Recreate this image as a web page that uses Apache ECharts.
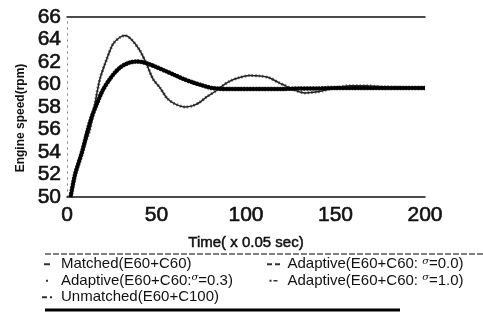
<!DOCTYPE html>
<html>
<head>
<meta charset="utf-8">
<script src="https://cdn.jsdelivr.net/npm/echarts@6/dist/echarts.min.js"></script>
<style>
html,body{margin:0;padding:0;background:#fff;}
#c{width:483px;height:332px;}
</style>
</head>
<body>
<div id="c"></div>
<script>
// ---- data ----
var xTicks = [0, 50, 100, 150, 200];
var yTicks = [50, 52, 54, 56, 58, 60, 62, 64, 66];

var seriesNames = [
  'Matched(E60+C60)',
  'Adaptive(E60+C60: σ=0.0)',
  'Adaptive(E60+C60:σ=0.3)',
  'Adaptive(E60+C60: σ=1.0)',
  'Unmatched(E60+C100)'
];

// thick (well damped) response: matched / adaptive sigma 0.3 / 1.0
var matchedT = [2, 4.5, 8.4, 11.7, 14, 16.7, 20, 24, 27, 29.6, 32, 35, 39, 42, 46, 50, 55, 60, 65, 70, 75, 80, 85, 90, 97, 110, 119, 130, 140, 150, 160, 170, 180, 190, 200];
var matchedV = [50, 52, 54, 56, 57.2, 58.3, 59.5, 60.5, 61.1, 61.5, 61.75, 61.95, 62.05, 62.0, 61.8, 61.55, 61.2, 60.85, 60.5, 60.2, 59.95, 59.72, 59.62, 59.6, 59.6, 59.6, 59.6, 59.65, 59.65, 59.7, 59.7, 59.7, 59.7, 59.7, 59.7];

var adapt03V = [50, 52, 54, 56, 57.2, 58.3, 59.5, 60.5, 61.1, 61.5, 61.75, 61.95, 62.05, 62.0, 61.8, 61.55, 61.2, 60.85, 60.5, 60.2, 59.95, 59.72, 59.62, 59.6, 59.6, 59.6, 59.6, 59.65, 59.65, 59.7, 59.7, 59.7, 59.7, 59.7, 59.7];
var adapt10V = [50, 52, 54, 56, 57.2, 58.3, 59.5, 60.5, 61.1, 61.5, 61.75, 61.95, 62.05, 62.0, 61.8, 61.55, 61.2, 60.85, 60.5, 60.2, 59.95, 59.72, 59.62, 59.6, 59.6, 59.6, 59.6, 59.65, 59.65, 59.7, 59.7, 59.7, 59.7, 59.7, 59.7];

// oscillating response: unmatched / adaptive sigma 0.0
var unmatchedT = [2, 4.5, 8.4, 12.8, 15.6, 18.4, 22.3, 25.7, 29.6, 32.4, 36, 40.8, 44.5, 48, 52, 55.8, 60, 66, 70, 74, 78, 83, 87, 91, 96, 102, 108, 113, 119, 122, 127, 133, 140, 147, 158, 167, 175, 185, 200];
var unmatchedV = [50, 52, 54, 56, 58.3, 60.5, 62.3, 63.6, 64.2, 64.35, 64.0, 63.0, 61.8, 60.5, 59.7, 58.8, 58.3, 58.0, 58.1, 58.4, 58.9, 59.4, 59.9, 60.3, 60.6, 60.8, 60.75, 60.6, 60.1, 59.9, 59.5, 59.25, 59.35, 59.6, 59.9, 59.9, 59.8, 59.75, 59.7];
var adapt00V = [50, 52, 54, 56, 58.3, 60.5, 62.3, 63.6, 64.2, 64.35, 64.0, 63.0, 61.8, 60.5, 59.7, 58.8, 58.3, 58.0, 58.1, 58.4, 58.9, 59.4, 59.9, 60.3, 60.6, 60.8, 60.75, 60.6, 60.1, 59.9, 59.5, 59.25, 59.35, 59.6, 59.9, 59.9, 59.8, 59.75, 59.7];

function pairs(t, v) { return t.map(function (x, i) { return [x, v[i]]; }); }

var FONT = 'Liberation Sans, Arial, sans-serif';
var chart = echarts.init(document.getElementById('c'), null, {renderer: 'canvas'});

var legendText = {
  fontFamily: FONT, fontSize: 15, color: '#111', lineHeight: 16.5, align: 'left',
  rich: {
    a: { fontFamily: FONT, fontSize: 15, color: '#111', lineHeight: 16.5 },
    s: { fontFamily: 'DejaVu Serif, serif', fontStyle: 'italic', fontSize: 10, color: '#111', verticalAlign: 'top', lineHeight: 16.5 }
  }
};
function fmt(n) {
  var i = n.indexOf('σ');
  if (i < 0) return '{a|' + n + '}';
  return '{a|' + n.slice(0, i) + '}{s|σ}{a|' + n.slice(i + 1) + '}';
}

var option = {
  animation: false,
  backgroundColor: '#fff',
  grid: { left: 67, right: 58, top: 17, bottom: 135, containLabel: false },
  xAxis: [{
    type: 'value', min: xTicks[0], max: xTicks[xTicks.length - 1], interval: 50,
    axisLine: { show: true, lineStyle: { color: '#111', width: 1.5 } },
    axisTick: { show: false },
    splitLine: { show: false },
    axisLabel: { fontFamily: FONT, fontSize: 21, color: '#111', margin: 8, textBorderColor: '#111', textBorderWidth: 0.6 },
    name: 'Time( x 0.05 sec)', nameLocation: 'middle', nameGap: 38,
    nameTextStyle: { fontFamily: FONT, fontSize: 15, color: '#111', textBorderColor: '#111', textBorderWidth: 0.5 }
  }, {
    type: 'value', position: 'top', min: 0, max: 200,
    axisLine: { show: true, lineStyle: { color: '#111', width: 1.5 } },
    axisTick: { show: false }, axisLabel: { show: false }, splitLine: { show: false }
  }],
  yAxis: [{
    type: 'value', min: yTicks[0], max: yTicks[yTicks.length - 1], interval: 2,
    axisLine: { show: true, lineStyle: { color: '#888', width: 1, type: [1, 5] } },
    axisTick: { show: false },
    splitLine: { show: false },
    axisLabel: { fontFamily: FONT, fontSize: 21, color: '#111', margin: 6, textBorderColor: '#111', textBorderWidth: 0.6 }
  }, {
    type: 'value', position: 'right', min: 50, max: 66,
    axisLine: { show: true, lineStyle: { color: '#888', width: 1, type: [1, 5] } },
    axisTick: { show: false }, axisLabel: { show: false }, splitLine: { show: false }
  }],
  legend: [{
    orient: 'vertical', left: 42, top: 256, itemGap: 0, padding: 0, align: 'left',
    itemWidth: 18, itemHeight: 2,
    data: [
      { name: seriesNames[0], icon: 'path://M0,0h6v2h-6z' },
      { name: seriesNames[2], icon: 'path://M0,0h2v2h-2z' },
      { name: seriesNames[4], icon: 'path://M0,0h5v2h-5zM8,0h2v2h-2z' }
    ],
    formatter: fmt, textStyle: legendText,
    itemStyle: { color: '#333', borderWidth: 0 }, lineStyle: { width: 0 }
  }, {
    orient: 'vertical', left: 267, top: 256, itemGap: 0, padding: 0, align: 'left',
    itemWidth: 18, itemHeight: 2,
    data: [
      { name: seriesNames[1], icon: 'path://M0,0h5v2h-5zM8,0h5v2h-5z' },
      { name: seriesNames[3], icon: 'path://M0,-0.5h3v3h-3zM6,0h6v2h-6z' }
    ],
    formatter: fmt, textStyle: legendText,
    itemStyle: { color: '#333', borderWidth: 0 }, lineStyle: { width: 0 }
  }],
  graphic: [
    { type: 'text', x: 21, y: 118, rotation: Math.PI / 2,
      style: { text: 'Engine speed(rpm)', font: 'bold 12px ' + FONT, fill: '#111', align: 'center', verticalAlign: 'middle' } },
    { type: 'line', shape: { x1: 45, y1: 254, x2: 483, y2: 254 },
      style: { stroke: '#555', lineWidth: 1.5, lineDash: [6, 2] } },
    { type: 'line', shape: { x1: 45, y1: 310, x2: 400, y2: 310 },
      style: { stroke: '#000', lineWidth: 3 } }
  ],
  series: [
    { name: seriesNames[4], type: 'line', showSymbol: false, smooth: 0.25, z: 2,
      data: pairs(unmatchedT, unmatchedV),
      itemStyle: { color: '#666' },
      lineStyle: { color: '#777', width: 3, type: [1.5, 2] } },
    { name: seriesNames[1], type: 'line', showSymbol: false, smooth: 0.25, z: 3,
      data: pairs(unmatchedT, adapt00V),
      itemStyle: { color: '#222' },
      lineStyle: { color: '#222', width: 1.5 } },
    { name: seriesNames[2], type: 'line', showSymbol: false, smooth: 0.25, z: 4,
      data: pairs(matchedT, adapt03V),
      itemStyle: { color: '#555' },
      lineStyle: { color: '#333', width: 4.5, type: [2, 1] } },
    { name: seriesNames[3], type: 'line', showSymbol: false, smooth: 0.25, z: 5,
      data: pairs(matchedT, adapt10V),
      itemStyle: { color: '#222' },
      lineStyle: { color: '#111', width: 3.5 } },
    { name: seriesNames[0], type: 'line', showSymbol: false, smooth: 0.25, z: 6,
      data: pairs(matchedT, matchedV),
      itemStyle: { color: '#222' },
      lineStyle: { color: '#000', width: 3 } }
  ]
};
chart.setOption(option);
</script>
</body>
</html>
